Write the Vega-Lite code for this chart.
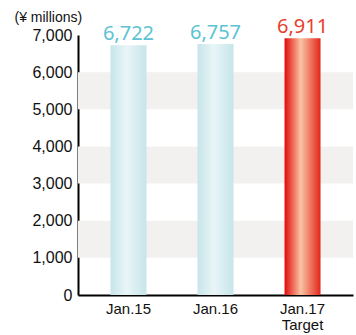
{
  "$schema": "https://vega.github.io/schema/vega-lite/v6.json",
  "width": 275,
  "height": 260,
  "autosize": "none",
  "padding": {"left": 78, "top": 35, "right": 3, "bottom": 40},
  "background": "white",
  "config": {"view": {"stroke": null}},
  "datasets": {
    "bars": [
      {"period": "Jan.15", "value": 6722, "kind": "actual"},
      {"period": "Jan.16", "value": 6757, "kind": "actual"},
      {"period": "Jan.17 Target", "value": 6911, "kind": "target"}
    ],
    "bands": [
      {"value": 1000, "value2": 2000},
      {"value": 3000, "value2": 4000},
      {"value": 5000, "value2": 6000}
    ]
  },
  "encoding": {
    "y": {"field": "value", "type": "quantitative", "scale": {"domain": [0, 7000], "nice": false},
      "axis": {
        "title": "(¥ millions)",
        "titleAngle": 0,
        "titleAlign": "left",
        "titleBaseline": "alphabetic",
        "titleX": -64,
        "titleY": -14,
        "titleFont": "Liberation Sans",
        "titleFontSize": 14,
        "titleFontWeight": "normal",
        "titleColor": "#111111",
        "values": [0, 1000, 2000, 3000, 4000, 5000, 6000, 7000],
        "format": ",d",
        "labelOverlap": false,
        "grid": false,
        "ticks": false,
        "domainColor": "#000000",
        "domainWidth": 2,
        "labelFont": "Liberation Sans",
        "labelFontSize": 16,
        "labelColor": "#111111",
        "labelPadding": 6
      }
    }
  },
  "layer": [
    {
      "data": {"name": "bands"},
      "mark": {"type": "rect", "color": "#f2f1ef"},
      "encoding": {
        "y2": {"field": "value2"}
      }
    },
    {
      "data": {"name": "bars"},
      "transform": [{"filter": "datum.kind === 'actual'"}],
      "mark": {
        "type": "bar",
        "width": 36,
        "color": {
          "gradient": "linear", "x1": 0, "x2": 1, "y1": 0, "y2": 0,
          "stops": [
            {"offset": 0, "color": "#c6e5ea"},
            {"offset": 0.45, "color": "#e9f5f7"},
            {"offset": 1, "color": "#c6e5ea"}
          ]
        }
      },
      "encoding": {
        "x": {"field": "period", "type": "nominal", "sort": null,
          "scale": {"paddingInner": 0.586, "paddingOuter": 0.373},
          "axis": {
            "title": null,
            "bandPosition": 0.5,
            "domainColor": "#000000",
            "domainWidth": 2,
            "ticks": false,
            "labelAngle": 0,
            "labelFont": "Liberation Sans",
            "labelFontSize": 15,
            "labelColor": "#111111",
            "labelPadding": 6,
            "labelLineHeight": 16,
            "labelExpr": "split(datum.value, ' ')"
          }
        }
      }
    },
    {
      "data": {"name": "bars"},
      "transform": [{"filter": "datum.kind === 'target'"}],
      "mark": {
        "type": "bar",
        "width": 36,
        "color": {
          "gradient": "linear", "x1": 0, "x2": 1, "y1": 0, "y2": 0,
          "stops": [
            {"offset": 0, "color": "#e20a0a"},
            {"offset": 0.45, "color": "#f9c4a4"},
            {"offset": 1, "color": "#e3251a"}
          ]
        }
      },
      "encoding": {
        "x": {"field": "period", "type": "nominal", "sort": null}
      }
    },
    {
      "data": {"name": "bars"},
      "mark": {"type": "text", "baseline": "alphabetic", "dy": -5, "font": "Noto Sans", "fontSize": 20},
      "encoding": {
        "x": {"field": "period", "type": "nominal", "sort": null},
        "text": {"field": "value", "type": "quantitative", "format": ","},
        "color": {
          "field": "kind", "type": "nominal",
          "scale": {"domain": ["actual", "target"], "range": ["#5cc3d2", "#e8402e"]},
          "legend": null
        }
      }
    }
  ]
}
